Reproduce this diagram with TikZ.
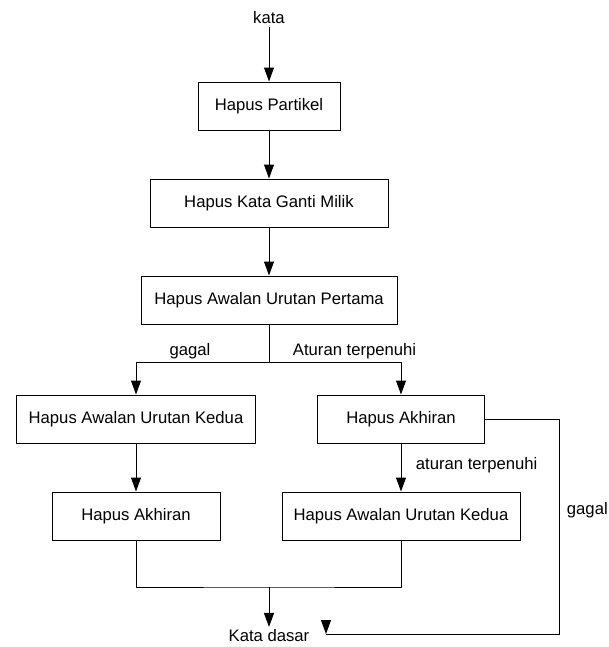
\documentclass[tikz,border=0pt]{standalone}
\usepackage{fontspec}
\setmainfont{Liberation Sans}
\usetikzlibrary{positioning}
\usetikzlibrary{arrows.meta}

\tikzset{
  box/.style={draw, rectangle, line width=0.75pt, minimum height=36pt, inner sep=0pt,
    font=\fontsize{12.5}{15}\selectfont},
  lbl/.style={font=\fontsize{12.5}{15}\selectfont, inner sep=2pt},
  arr/.style={-{Triangle[length=10.5pt,width=7.5pt]}},
  line/.style={line width=0.75pt}
}

\begin{document}
\begin{tikzpicture}[x=0.75pt,y=-0.75pt]
    \useasboundingbox (0,0) rectangle (609,647);

    % kolom utama
    \node[lbl] (kata) at (269,18) {kata};
    \node[box, minimum width=106.5pt] (partikel) at (269,106) {Hapus Partikel};
    \node[box, minimum width=178.5pt, below=36pt of partikel] (milik) {Hapus Kata Ganti Milik};
    \node[box, minimum width=192pt, below=36pt of milik] (awal1) {Hapus Awalan Urutan Pertama};

    \coordinate (cabang) at (269,362);

    % cabang kiri dan kanan
    \node[box, minimum width=179.25pt] (kedua1) at (136,419) {Hapus Awalan Urutan Kedua};
    \node[box, minimum width=125.25pt] (akhiran1) at (401,419) {Hapus Akhiran};
    \node[box, minimum width=126pt, below=36pt of kedua1] (akhiran2) {Hapus Akhiran};
    \node[box, minimum width=178.5pt, below=36pt of akhiran1] (kedua2) {Hapus Awalan Urutan Kedua};

    \node[lbl] (gagal1) at (190,351) {gagal};
    \node[lbl, anchor=west] (aturan1) at (290,351) {Aturan terpenuhi};
    \node[lbl, anchor=west] (aturan2) at (413,465) {aturan terpenuhi};
    \node[lbl, anchor=east, inner sep=0pt] (gagal2) at (608,510) {gagal};

    \coordinate (gabung) at (269,587);
    \node[lbl] (dasar) at (269,636) {Kata dasar};
    \coordinate (belok) at (559,634);
    \coordinate (ujung) at (326,634);

    \draw[line, arr] (kata) -- (partikel);
    \draw[line, arr] (partikel) -- (milik);
    \draw[line, arr] (milik) -- (awal1);
    \draw[line] (awal1) -- (cabang);
    \draw[line, arr] (cabang) -| (kedua1);
    \draw[line, arr] (cabang) -| (akhiran1);
    \draw[line, arr] (kedua1) -- (akhiran2);
    \draw[line, arr] (akhiran1) -- (kedua2);
    \draw[line] (akhiran2) |- (gabung) -| (kedua2);
    \draw[line, arr] (gabung) -- (dasar);
    \draw[line] (akhiran1) -| (belok) -- (ujung);
    \draw[line, arr] ([yshift=10.5pt]ujung) -- (ujung);

\end{tikzpicture}
\end{document}
